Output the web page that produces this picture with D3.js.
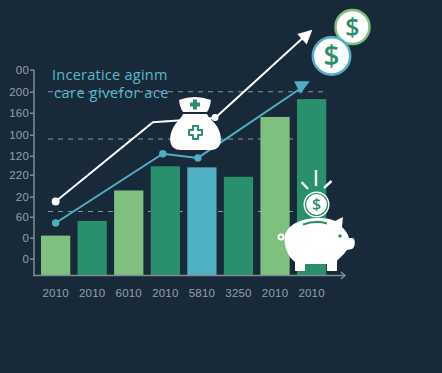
<!DOCTYPE html>
<html>
<head>
<meta charset="utf-8">
<script src="https://cdnjs.cloudflare.com/ajax/libs/d3/7.8.5/d3.min.js"></script>
<style>
    html, body { margin: 0; padding: 0; background: #182a3a; }
    svg { display: block; font-family: "Open Sans", sans-serif; }
</style>
</head>
<body>
<svg id="chart" width="442" height="373"></svg>
<script>
// values, in y axis units
let xLabels = ["2010", "2010", "6010", "2010", "5810", "3250", "2010", "2010"];
let barValues = [38, 52, 81, 104, 103, 94, 151, 168];
let barColors = ["light", "dark", "light", "dark", "teal", "dark", "light", "dark"];
let yLabels = ["0", "0", "60", "20", "220", "120", "100", "160", "200", "00"];
let yTicks = [16, 36, 56, 75, 96, 114, 134, 155, 175, 196];
let gridValues = [61, 130, 175];
let whitePos = [0, 2.66, 4.36, 7.02];
let whiteValues = [70.5, 146, 150, 234];
let tealPos = [0, 2.93, 3.89, 6.95];
let tealValues = [50, 116, 112, 185];

let colors = { light: "#7fc080", dark: "#2a8f6c", teal: "#4fb0c4", axis: "#7f8c93", text: "#94a0a8" };

let svg = d3.select("#chart");

let x = d3.scaleBand().domain(d3.range(xLabels.length)).range([37.34, 329.9])
    .paddingInner(0.2).paddingOuter(0.1);
let y = d3.scaleLinear().domain([0, 200]).range([275.5, 65.5]);
let xPos = d3.scaleLinear().domain([0, 7]).range([x(0) + x.bandwidth() / 2, x(7) + x.bandwidth() / 2]);

// dashed grid sits behind the bars
svg.append("g").selectAll("line").data(gridValues).join("line")
    .attr("x1", 48).attr("x2", 325)
    .attr("y1", d => y(d)).attr("y2", d => y(d))
    .attr("stroke", "#8b979e").attr("stroke-width", 1.1).attr("stroke-dasharray", "5,5");

svg.append("g").selectAll("rect").data(barValues).join("rect")
    .attr("x", (d, i) => x(i))
    .attr("y", d => y(d))
    .attr("width", x.bandwidth())
    .attr("height", d => y(0) - y(d))
    .attr("fill", (d, i) => colors[barColors[i]]);

// axes
let yAxis = svg.append("g").attr("transform", "translate(34,0)")
    .call(d3.axisLeft(y).tickValues(yTicks).tickSize(4).tickPadding(1)
        .tickFormat((d, i) => yLabels[i]));
yAxis.select(".domain").attr("d", "M0," + y(196) + "V" + y(0));

let xAxis = svg.append("g").attr("transform", "translate(0," + y(0) + ")")
    .call(d3.axisBottom(x).tickSize(0).tickPadding(13).tickFormat((d, i) => xLabels[i]));
xAxis.select(".domain").attr("d", "M33,0H345");
xAxis.append("path").attr("d", "M341,-3.5L345,0L341,3.5").attr("fill", "none");

[yAxis, xAxis].forEach(function (a) {
    a.selectAll(".domain, .tick line, path").attr("stroke", colors.axis).attr("stroke-width", 1.5);
    a.selectAll("text").attr("fill", colors.text).style("font-size", "11.5px")
        .style("letter-spacing", "0.2px");
});

// title
let title = svg.append("g").attr("fill", "#55bccb").style("font-size", "14.5px");
title.append("text").attr("x", 52).attr("y", 80).style("letter-spacing", "0.25px").text("Inceratice aginm");
title.append("text").attr("x", 54).attr("y", 98).style("letter-spacing", "0.55px").text("care givefor ace");

// lines with arrow heads
let line = d3.line();

function drawLine(pos, values, color, width, headTurn) {
    let pts = pos.map((p, i) => [xPos(p), y(values[i])]);
    let last = pts[pts.length - 1];
    let prev = pts[pts.length - 2];
    let angle = Math.atan2(last[1] - prev[1], last[0] - prev[0]) * 180 / Math.PI;
    svg.append("path").attr("d", line(pts.slice(0, -1).concat([[last[0] - 6, last[1] + 5]])))
        .attr("fill", "none").attr("stroke", color).attr("stroke-width", width);
    svg.append("path").attr("d", "M0,0L-14,-7L-14,7Z")
        .attr("transform", "translate(" + last[0] + "," + last[1] + ") rotate(" + (angle + headTurn) + ")")
        .attr("fill", color);
    return pts;
}

let whitePts = drawLine(whitePos, whiteValues, "#ffffff", 2, 0);
let tealPts = drawLine(tealPos, tealValues, colors.teal, 2, 8);

svg.append("circle").attr("cx", whitePts[0][0]).attr("cy", whitePts[0][1]).attr("r", 4).attr("fill", "#fff");
svg.append("g").selectAll("circle").data(tealPts.slice(0, 3)).join("circle")
    .attr("cx", d => d[0]).attr("cy", d => d[1]).attr("r", 3.7).attr("fill", colors.teal);

// nurse bag
let bag = svg.append("g");
bag.append("path").attr("fill", "#fff")
    .attr("d", "M179,100Q195,94 211,100Q210,108 207,112H183Q180,108 179,100Z");
bag.append("path").attr("fill", "#fff")
    .attr("d", "M183,114H207C209,119 215,122 218,128C223,138 222,150 211,150H181C169,150 168,138 173,128C176,122 181,119 183,114Z");
bag.append("circle").attr("cx", 215).attr("cy", 117.5).attr("r", 3.5).attr("fill", "#fff");
bag.append("path").attr("fill", colors.dark)
    .attr("d", "M193,99.5h4v3h3v4h-3v3h-4v-3h-3v-4h3Z");
bag.append("path").attr("fill", "#fff").attr("stroke", colors.dark).attr("stroke-width", 2)
    .attr("stroke-linejoin", "round")
    .attr("d", "M193,126h5v4h4v5h-4v4h-5v-4h-4v-5h4Z");

// coins
function coin(cx, cy, r, ring, ringWidth, size) {
    let g = svg.append("g");
    g.append("circle").attr("cx", cx).attr("cy", cy).attr("r", r)
        .attr("fill", "#fff").attr("stroke", ring).attr("stroke-width", ringWidth);
    g.append("text").attr("x", cx).attr("y", cy).attr("dy", "0.36em")
        .attr("text-anchor", "middle").attr("fill", colors.dark)
        .style("font-size", size + "px").style("font-weight", 600).text("$");
    return g;
}
coin(352.5, 27, 17, colors.light, 2.5, 25);
coin(331.5, 56, 18.7, colors.teal, 2.5, 28);

// piggy bank
let pig = svg.append("g");
pig.append("circle").attr("cx", 281).attr("cy", 237).attr("r", 2.5)
    .attr("fill", "none").attr("stroke", "#fff").attr("stroke-width", 2);
pig.append("path").attr("fill", "#fff")
    .attr("d", "M285,234C290,223 303,218 318,218C326,218 331,219 335,221L343,217L342,227C346,231 348,234 349,238L353,238C356,240 355,248 352,249L347,250C343,256 338,259 337,261V271H327V264H305V271H295V262C288,257 283,246 285,234Z");
pig.append("circle").attr("cx", 340).attr("cy", 236).attr("r", 1.8).attr("fill", colors.dark);
pig.append("path").attr("d", "M303,224.500Q316,220 327,223.500")
    .attr("fill", "none").attr("stroke", colors.dark).attr("stroke-width", 2.2);
coin(316.5, 204.5, 11, colors.dark, 1.2, 16).insert("circle", ":first-child")
    .attr("cx", 316.5).attr("cy", 204.5).attr("r", 13).attr("fill", "#fff");
let rays = [[316, 170, 316, 186], [301.5, 182, 308, 189], [331.5, 181, 324, 188]];
pig.append("g").selectAll("line").data(rays).join("line")
    .attr("x1", d => d[0]).attr("y1", d => d[1]).attr("x2", d => d[2]).attr("y2", d => d[3])
    .attr("stroke", "#f4f6f5").attr("stroke-width", 2.4);
</script>
</body>
</html>
